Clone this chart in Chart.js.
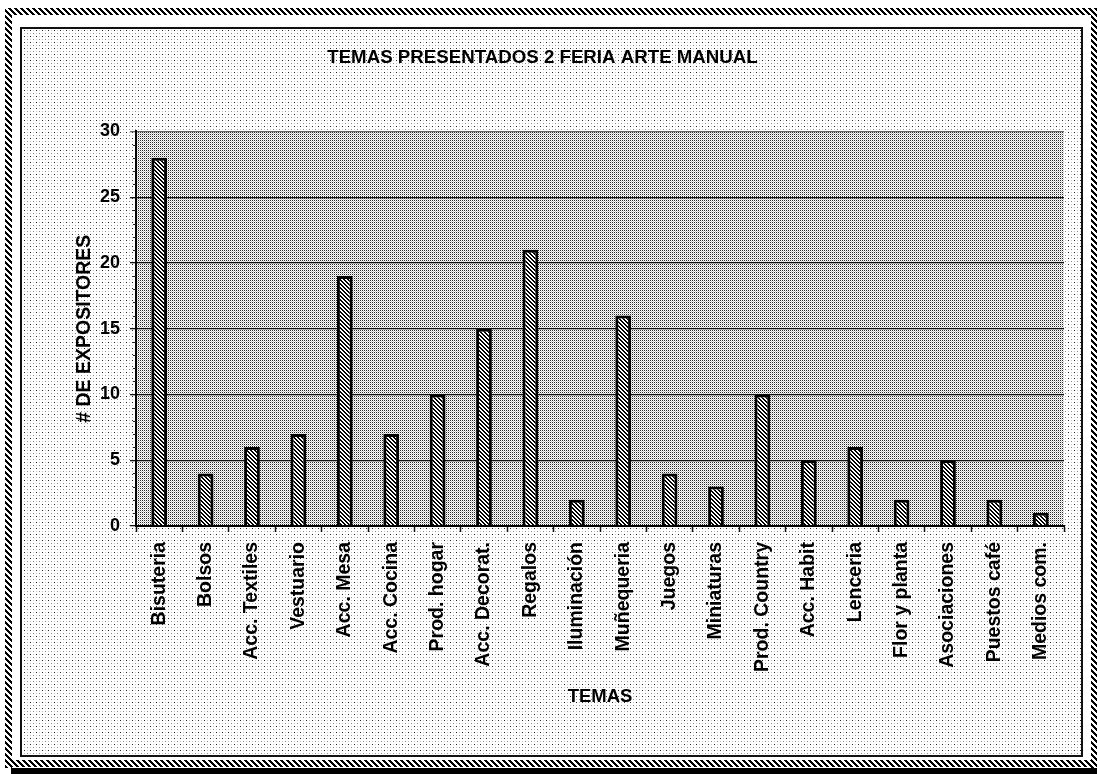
<!DOCTYPE html>
<html>
<head>
<meta charset="utf-8">
<title>Temas presentados 2 Feria Arte Manual</title>
<script src="https://cdn.jsdelivr.net/npm/chart.js@4"></script>
<style>
  html, body { margin: 0; padding: 0; background: #fff; }
  #grafico { display: block; }
</style>
</head>
<body>
<canvas id="grafico" width="1097" height="774"></canvas>
<script>
const TEMAS = ['Bisuteria', 'Bolsos', 'Acc. Textiles', 'Vestuario', 'Acc. Mesa', 'Acc. Cocina',
  'Prod. hogar', 'Acc. Decorat.', 'Regalos', 'Iluminación', 'Muñequeria', 'Juegos',
  'Miniaturas', 'Prod. Country', 'Acc. Habit', 'Lenceria', 'Flor y planta',
  'Asociaciones', 'Puestos café', 'Medios com.'];
const EXPOSITORES = [28, 4, 6, 7, 19, 7, 10, 15, 21, 2, 16, 4, 3, 10, 5, 6, 2, 5, 2, 1];
const Y_MIN = 0;
const Y_MAX = 30;
const Y_PASO = 5;

const TITULO = 'TEMAS PRESENTADOS 2 FERIA ARTE MANUAL';
const TITULO_Y = '# DE EXPOSITORES';
const TITULO_X = 'TEMAS';

const FUENTE = "'Liberation Sans', Arial, sans-serif";

const canvas = document.getElementById('grafico');
const ctx = canvas.getContext('2d');

// pequeños patrones para imitar la trama del escaneo
function patron(w, h, dibujar) {
  const c = document.createElement('canvas');
  c.width = w;
  c.height = h;
  const g = c.getContext('2d');
  dibujar(g);
  return ctx.createPattern(c, 'repeat');
}

const TRAMA_BARRA = patron(4, 4, g => {
  g.fillStyle = '#fff';
  g.fillRect(0, 0, 4, 4);
  g.fillStyle = '#000';
  for (let i = 0; i < 4; i++) {
    g.fillRect(i, i, 1, 1);
    g.fillRect((i + 1) % 4, i, 1, 1);
  }
});

const TRAMA_BORDE = patron(6, 6, g => {
  g.fillStyle = '#fff';
  g.fillRect(0, 0, 6, 6);
  g.fillStyle = '#000';
  for (let i = 0; i < 6; i++) {
    g.fillRect(i, i, 1, 1);
    g.fillRect((i + 1) % 6, i, 1, 1);
    g.fillRect((i + 2) % 6, i, 1, 1);
  }
});

const TRAMA_AREA = patron(2, 2, g => {
  g.fillStyle = '#fff';
  g.fillRect(0, 0, 2, 2);
  g.fillStyle = '#2a2a2a';
  g.fillRect(0, 0, 1, 1);
  g.fillStyle = '#c4c4c4';
  g.fillRect(1, 1, 1, 1);
});

const TRAMA_FONDO = patron(6, 6, g => {
  g.fillStyle = '#fff';
  g.fillRect(0, 0, 6, 6);
  g.fillStyle = '#222';
  g.fillRect(0, 0, 1, 1);
  g.fillStyle = '#888';
  g.fillRect(3, 3, 1, 1);
  g.fillStyle = '#c4c4c4';
  g.fillRect(3, 0, 1, 1);
  g.fillRect(0, 3, 1, 1);
});

const marco = {
  id: 'marco',
  beforeDraw(chart) {
    const c = chart.ctx;
    const W = chart.width, H = chart.height;
    const a = chart.chartArea;
    c.save();
    c.fillStyle = '#fff';
    c.fillRect(0, 0, W, H);

    // borde rayado exterior
    c.fillStyle = TRAMA_BORDE;
    c.fillRect(5, 8, W - 5, 7);
    c.fillRect(5, 8, 7, H - 14);
    c.fillRect(W - 6, 8, 6, H - 14);
    c.fillRect(5, H - 14, W - 5, 7);
    c.fillStyle = '#000';
    c.fillRect(11, H - 6, W - 11, 6);

    // marco interior
    c.fillStyle = TRAMA_FONDO;
    c.fillRect(21, 28, 1061, 728);
    c.strokeStyle = '#111';
    c.lineWidth = 2;
    c.strokeRect(21, 28, 1061, 728);

    // area del grafico
    c.fillStyle = TRAMA_AREA;
    c.fillRect(a.left, a.top, a.right - a.left, a.bottom - a.top);
    c.restore();
  },
  afterDraw(chart) {
    // marcas menores en el eje vertical
    const y = chart.scales.y;
    const c = chart.ctx;
    c.save();
    c.strokeStyle = '#222';
    c.lineWidth = 1;
    for (let v = Y_MIN; v <= Y_MAX; v++) {
      if (v % Y_PASO === 0) continue;
      const py = Math.round(y.getPixelForValue(v)) + 0.5;
      c.beginPath();
      c.moveTo(y.right - 3, py);
      c.lineTo(y.right, py);
      c.stroke();
    }
    c.restore();
  }
};

const grafico = new Chart(canvas, {
  type: 'bar',
  data: {
    labels: TEMAS,
    datasets: [{
      label: TITULO_Y,
      data: EXPOSITORES,
      backgroundColor: TRAMA_BARRA,
      borderColor: '#000',
      borderWidth: 3,
      borderSkipped: 'bottom',
      barPercentage: 0.34,
      categoryPercentage: 1
    }]
  },
  options: {
    responsive: false,
    animation: false,
    devicePixelRatio: 1,
    layout: {
      padding: { left: 21, right: 33, top: 28, bottom: 18 }
    },
    plugins: {
      legend: { display: false },
      tooltip: { enabled: false },
      title: {
        display: true,
        text: TITULO,
        color: '#000',
        font: { family: FUENTE, size: 18.7, weight: 'bold' },
        padding: { top: 19, bottom: 62 }
      }
    },
    scales: {
      x: {
        offset: true,
        grid: {
          offset: true,
          drawOnChartArea: false,
          drawTicks: true,
          tickLength: 6,
          color: '#111',
          tickWidth: 1.5
        },
        border: { color: '#000', width: 2 },
        ticks: {
          color: '#000',
          autoSkip: false,
          minRotation: 90,
          maxRotation: 90,
          padding: 10,
          font: { family: FUENTE, size: 19.5, weight: 'bold' }
        },
        title: {
          display: true,
          text: TITULO_X,
          color: '#000',
          font: { family: FUENTE, size: 18.5, weight: 'bold' },
          padding: { top: 0, bottom: 48 }
        },
        afterFit(scale) {
          scale.height = 230;
        }
      },
      y: {
        min: Y_MIN,
        max: Y_MAX,
        grid: {
          drawTicks: true,
          tickLength: 6,
          color: ctx => ctx.tick && ctx.tick.value === Y_MAX ? '#666' : '#111',
          lineWidth: 1.3
        },
        border: { color: '#000', width: 2 },
        ticks: {
          stepSize: Y_PASO,
          color: '#000',
          padding: 10,
          font: { family: FUENTE, size: 18, weight: 'bold' }
        },
        title: {
          display: true,
          text: TITULO_Y,
          color: '#000',
          font: { family: FUENTE, size: 19.5, weight: 'bold' },
          padding: { top: 52, bottom: 0 }
        },
        afterFit(scale) {
          scale.width = 115;
        }
      }
    }
  },
  plugins: [marco]
});
</script>
</body>
</html>
